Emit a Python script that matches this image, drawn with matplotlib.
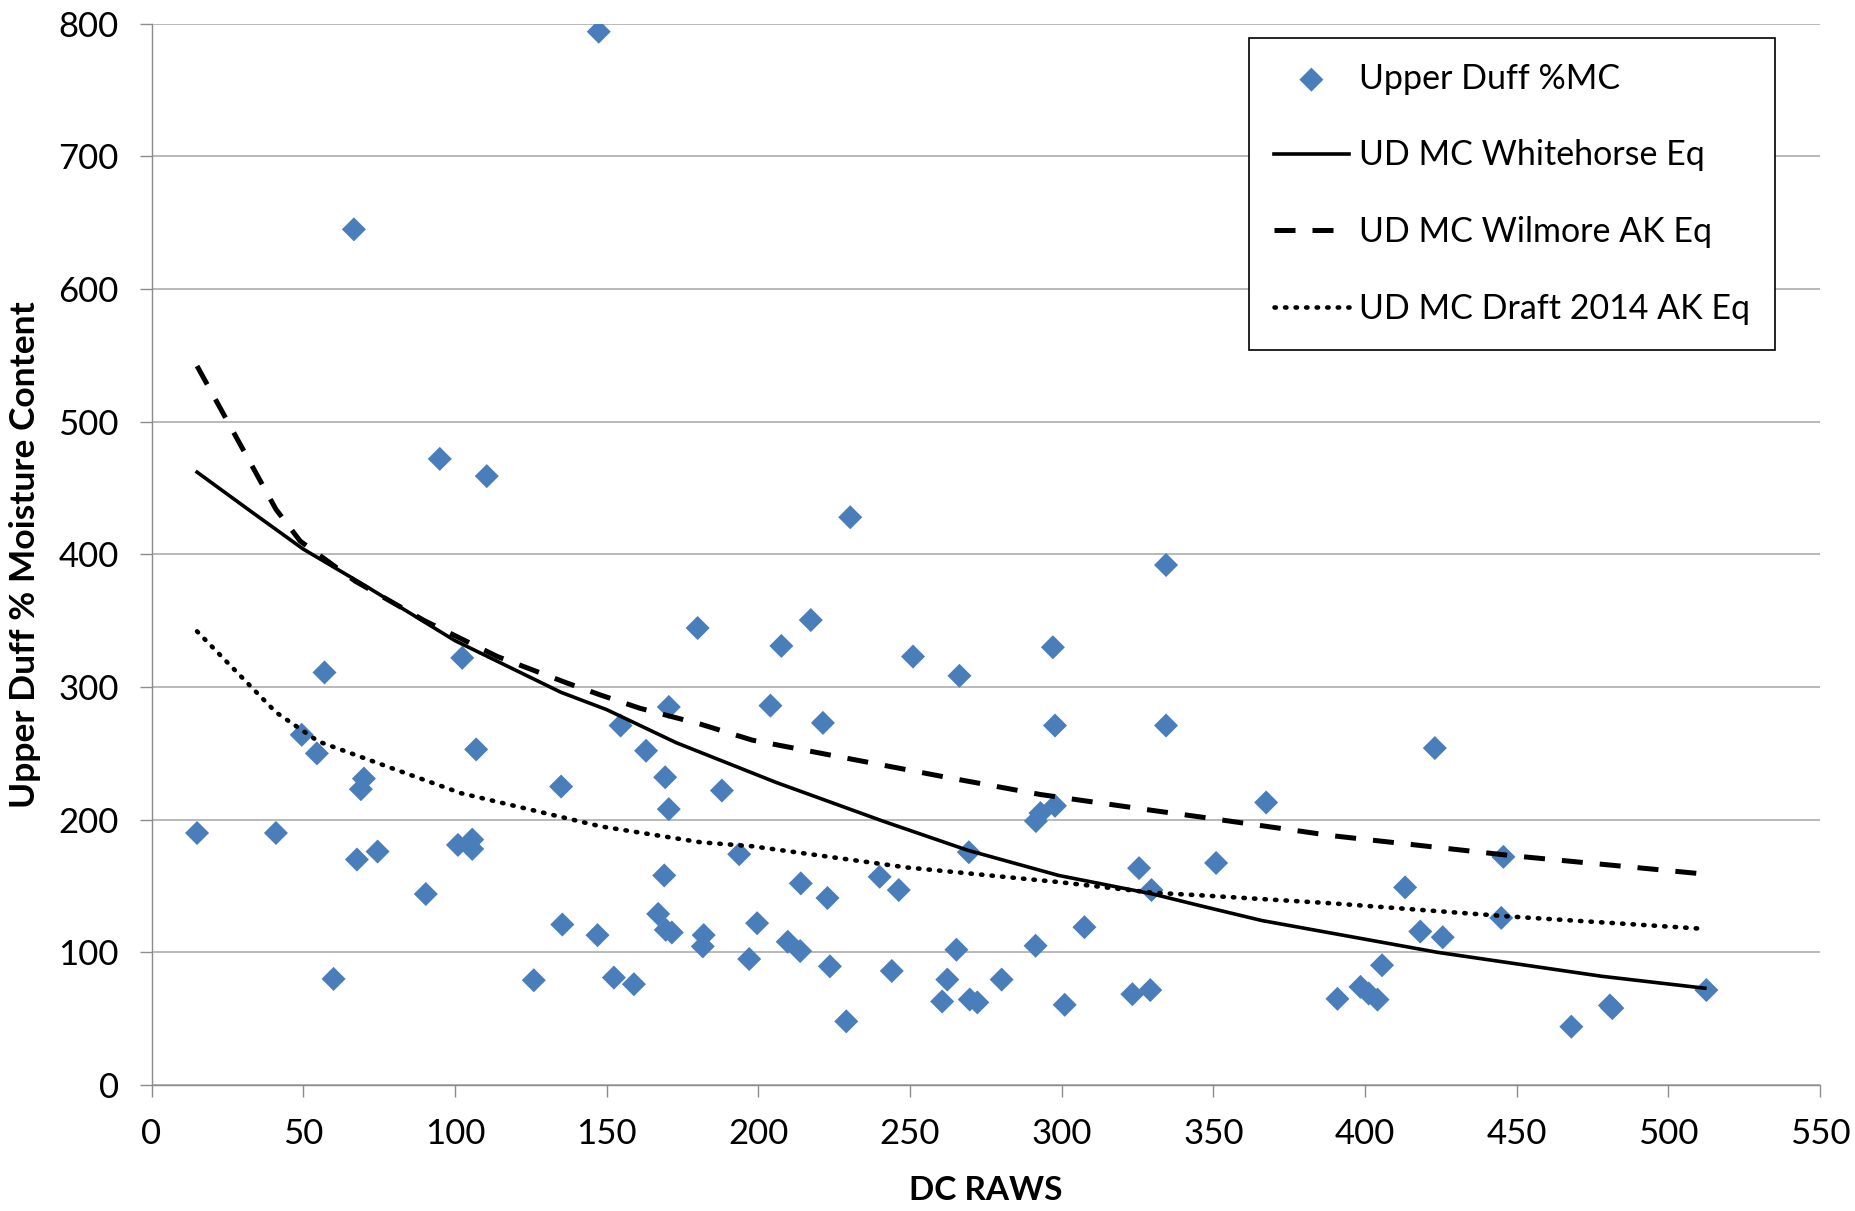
import numpy as np
import matplotlib.pyplot as plt

plt.rcParams['font.family'] = ['Lato', 'DejaVu Sans']

# Upper duff moisture vs DC at the RAWS
dc_raws = [15, 41, 49.5, 54.5, 57, 60, 66.7, 67.7, 69, 70,
           74.5, 90.4, 95, 101, 102.4, 105.7, 105.7, 107, 110.5, 126,
           135, 135.4, 147, 147.4, 152.4, 154.6, 159, 163, 167, 169,
           169.3, 169.5, 170.5, 170.5, 171.5, 180, 182, 181.7, 188, 193.7,
           197, 199.6, 204, 207.6, 209.7, 213.8, 214, 217.3, 221.3, 222.8,
           223.6, 229, 230.3, 240, 244, 246.3, 251, 260.6, 262.3, 265.3,
           266.3, 269.4, 269.7, 272.2, 280.2, 291.4, 291.5, 293, 297.1, 297.8,
           297.8, 301, 307.5, 323.3, 325.5, 329.2, 329.6, 334.4, 334.4, 350.9,
           367.4, 390.9, 398.5, 401.2, 404.1, 405.6, 413.2, 418.2, 423, 425.6,
           444.9, 445.6, 468, 480.7, 481.5, 512.5]
upper_duff_mc = [190, 190, 264, 250, 311, 80, 645, 170, 223, 231,
                 176, 144, 472, 181, 322, 178, 185, 253, 459, 79,
                 225, 121, 113, 794, 81, 271, 76, 252, 129, 158,
                 232, 117, 285, 208, 115, 344.5, 113, 104.5, 222, 174,
                 95, 122, 286, 331, 108, 101, 152, 350.5, 273, 141,
                 89.5, 48, 428, 157, 86, 147, 323, 63, 79.5, 102,
                 308.5, 175.5, 64.5, 62.3, 79.5, 105, 199, 205, 330, 271,
                 210.5, 60.5, 119, 68.5, 163.5, 71.6, 147, 392, 271, 167.4,
                 213, 65, 74, 69, 64.4, 90.3, 149, 115.7, 254, 111.4,
                 126, 172, 44, 60, 58, 71.6]

# Fitted equation curves
whitehorse_dc = [15, 33, 50, 70, 100, 135, 150, 173, 206, 241, 269, 299, 330, 346, 366, 424, 478, 512]
whitehorse_mc = [462, 432, 404, 377, 335, 296, 283, 258, 228, 199, 177, 158, 144, 135, 124, 100, 82, 73]

wilmore_dc = [15, 41, 49, 67, 90, 114, 137, 148, 161, 181, 198, 230, 262, 293, 330, 346, 389, 448, 512]
wilmore_mc = [542, 434, 410, 380, 350, 323, 303, 294, 284, 272, 260, 246, 232, 219, 207, 202, 188, 173, 159]

draft2014_dc = [15, 41, 55, 79, 102, 126, 148, 181, 198, 249, 299, 330, 346, 389, 448, 510]
draft2014_mc = [342, 281, 259, 239, 220, 207, 195, 183, 180, 164, 153, 145, 143, 137, 127, 118]

x_ticks = np.arange(0, 551, 50)
y_ticks = np.arange(0, 801, 100)

fig = plt.figure(figsize=(18.55, 12.11), dpi=100)
ax = fig.add_axes([0.0817, 0.1040, 0.8995, 0.8764])

ax.scatter(dc_raws, upper_duff_mc, marker='D', s=150, color='#4a7ebb',
           edgecolors='none', zorder=3, label='Upper Duff %MC')
ax.plot(whitehorse_dc, whitehorse_mc, color='black', lw=2.6,
        zorder=4, label='UD MC Whitehorse Eq')
ax.plot(wilmore_dc, wilmore_mc, color='black', lw=3.6, dashes=(4.2, 3.4),
        zorder=4, label='UD MC Wilmore AK Eq')
ax.plot(draft2014_dc, draft2014_mc, color='black', lw=3.3, dashes=(0.3, 2.0),
        dash_capstyle='round', zorder=4, label='UD MC Draft 2014 AK Eq')

ax.set_xlim(0, 550)
ax.set_ylim(0, 800)
ax.set_xticks(x_ticks)
ax.set_yticks(y_ticks)

ax.grid(axis='y', color='#a6a6a6', lw=1.1)
ax.set_axisbelow(True)
for side in ['top', 'right']:
    ax.spines[side].set_visible(False)
for side in ['left', 'bottom']:
    ax.spines[side].set_color('#8c8c8c')
    ax.spines[side].set_linewidth(1.0)

ax.tick_params(axis='both', direction='out', length=8.6, width=1.0,
               color='#8c8c8c', labelsize=25, labelcolor='black')
ax.tick_params(axis='y', pad=15)
ax.tick_params(axis='x', pad=15)

ax.set_xlabel('DC RAWS', fontsize=24, fontweight='bold')
ax.set_ylabel('Upper Duff % Moisture Content', fontsize=25.5, fontweight='bold')
ax.xaxis.set_label_coords(0.5, -0.086)
ax.yaxis.set_label_coords(-0.066, 0.5)

leg = ax.legend(loc='upper left', bbox_to_anchor=(0.658, 0.9865),
                borderaxespad=0, fontsize=24.5, frameon=True, fancybox=False,
                framealpha=1, edgecolor='black', handlelength=2.2,
                handletextpad=0.3, labelspacing=1.32, borderpad=0.72,
                scatterpoints=1)
leg.get_frame().set_linewidth(1.2)

fig.savefig('out.png', dpi=100)
